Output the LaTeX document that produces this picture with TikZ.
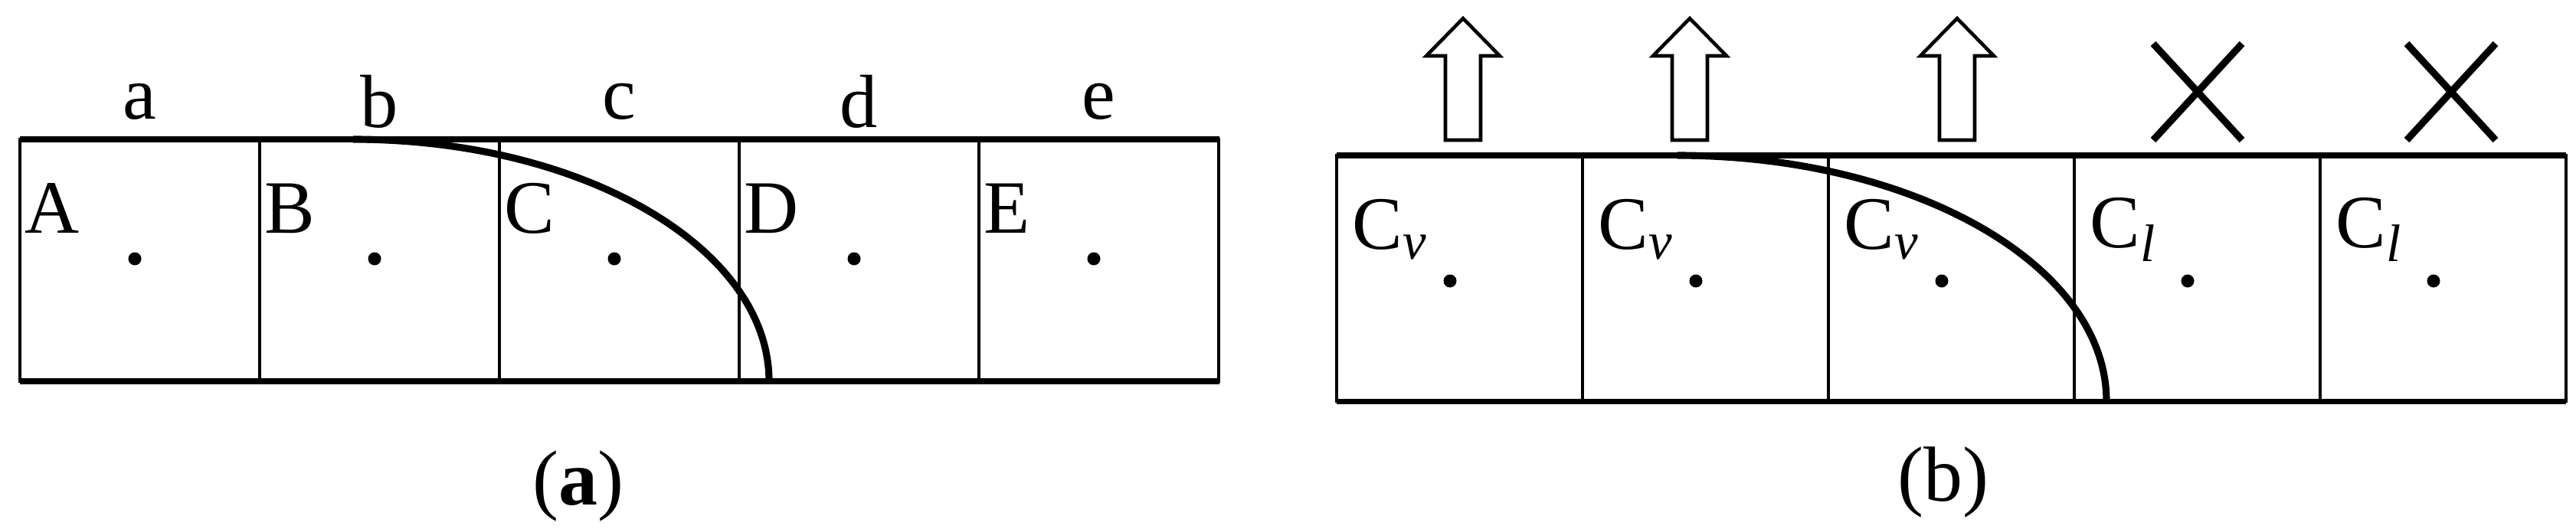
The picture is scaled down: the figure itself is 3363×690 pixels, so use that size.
\documentclass[tikz,border=0pt]{standalone}
\usepackage{fontspec}
\setmainfont{Liberation Serif}
\begin{document}
\begin{tikzpicture}[x=0.01cm,y=-0.01cm,
  lbl/.style={font=\fontsize{28}{32}\selectfont, inner sep=0pt},
  thin/.style={line width=1pt},
  thick2/.style={line width=2pt},
  curve/.style={line width=2.6pt},
  dot/.style={circle, fill=black, inner sep=0pt, minimum size=0.17cm},
  uparrow/.style={draw, line width=1.3pt, fill=white}]
\useasboundingbox (0,0) rectangle (3363,690);
% panel a
\foreach \i/\L/\l in {0/A/a,1/B/b,2/C/c,3/D/d,4/E/e}{
  \pgfmathsetmacro{\xl}{26+313*\i}
  \draw[thin] (\xl,182) rectangle ++(313,316);
  \node[lbl] (ta\i) at (\xl+156,133) {\l};
  \node[lbl, anchor=west] (La\i) at (\xl+6,272) {\L};
  \node[dot] (da\i) at (\xl+150,338) {};
}
\draw[thick2] (26,182) -- (1592,182);
\draw[thick2] (26,498) -- (1592,498);
\draw[curve] (461,182) arc[start angle=270, end angle=360, x radius=543, y radius=316];
\node[font=\fontsize{29}{32}\selectfont] (capa) at (755,635) {(\textbf{a})};
% panel b
\foreach \i/\s in {0/v,1/v,2/v,3/l,4/l}{
  \pgfmathsetmacro{\xl}{1745+321*\i}
  \draw[thin] (\xl,203) rectangle ++(321,321);
  \node[lbl, anchor=west] (Lb\i) at (\xl+20,300) {C\textsubscript{\textit{\s}}};
  \node[dot] (db\i) at (\xl+148,367) {};
}
\draw[thick2] (1745,203) -- (3350,203);
\draw[thick2] (1745,524) -- (3350,524);
\draw[curve] (2190,203) arc[start angle=270, end angle=360, x radius=560, y radius=321];
\foreach \x [count=\k] in {1910,2206,2555}{
  \draw[uparrow] (\x-23,183) -- (\x-23,73) -- (\x-48,73) -- (\x,24) -- (\x+48,73) -- (\x+23,73) -- (\x+23,183) -- cycle;
}
\foreach \x in {2869,3200}{
  \draw[line width=2.6pt] (\x-58,57) -- (\x+58,183) (\x+58,57) -- (\x-58,183);
}
\node[font=\fontsize{29}{32}\selectfont] (capb) at (2537,630) {(b)};
\end{tikzpicture}
\end{document}
